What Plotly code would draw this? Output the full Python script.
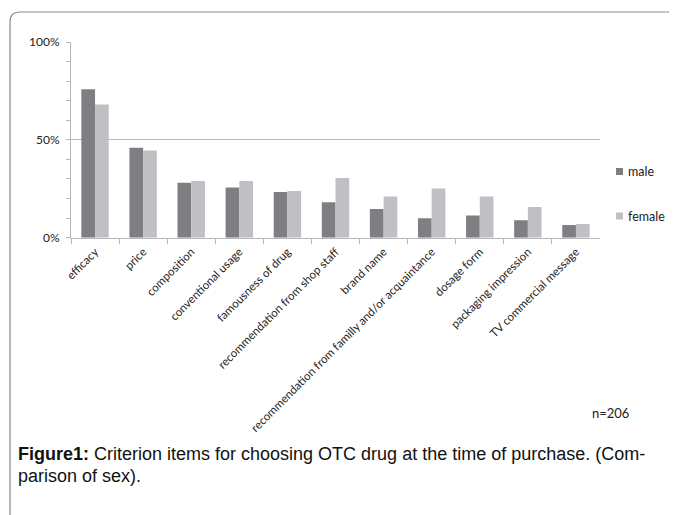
import plotly.graph_objects as go

categories = ["efficacy", "price", "composition", "conventional usage", "famousness of drug",
              "recommendation from shop staff", "brand name",
              "recommendation from familly and/or acquaintance", "dosage form",
              "packaging impression", "TV commercial message"]
male = [0.758, 0.46, 0.281, 0.257, 0.233, 0.181, 0.147, 0.099, 0.114, 0.089, 0.065]
female = [0.68, 0.445, 0.29, 0.29, 0.239, 0.305, 0.21, 0.252, 0.21, 0.157, 0.07]
ytick_vals = [0, 0.5, 1.0]
ytick_text = ["0%", "50%", "100%"]
series_names = ["male", "female"]
series_colors = ["#7f7f83", "#bfc0c4"]

# page body has an 8px margin; work in window pixels and convert
OFF = 8
W, H = 677 - OFF, 515 - OFF
def px(x): return (x - OFF) / W
def py(y): return 1 - (y - OFF) / H

fig = go.Figure()
for name, vals, col in zip(series_names, [male, female], series_colors):
    fig.add_trace(go.Bar(x=categories, y=vals, name=name, marker_color=col,
                         marker_line_width=0))

axis_col = "#b8b8b8"
fig.update_layout(
    width=W, height=H,
    margin=dict(l=0, r=0, t=0, b=0, autoexpand=False),
    paper_bgcolor="white", plot_bgcolor="white",
    barmode="group", bargap=0.43, bargroupgap=0,
    font=dict(family="Lato, Open Sans, sans-serif", color="#222"),
    xaxis=dict(domain=[px(71), px(600)], showline=True, linecolor=axis_col, linewidth=1,
               automargin=False, ticklabelstandoff=2,
               ticks="outside", tickson="boundaries", ticklen=5, tickcolor=axis_col,
               tickangle=-45, tickfont=dict(size=11.5, family="Lato"), showgrid=False),
    yaxis=dict(domain=[py(237.7), py(42)], range=[0, 1.0], tickvals=ytick_vals,
               automargin=False, ticklabelstandoff=4,
               ticktext=ytick_text, showline=True, linecolor=axis_col, linewidth=1,
               ticks="outside", ticklen=4, tickcolor=axis_col,
               tickfont=dict(size=12, family="Lato"),
               showgrid=True, gridcolor=axis_col, gridwidth=1, zeroline=False,
               minor=dict(tickvals=[0.1, 0.2, 0.3, 0.4, 0.6, 0.7, 0.8, 0.9], ticks="outside",
                          ticklen=4, tickcolor=axis_col, showgrid=False)),
    showlegend=False,
)

# manual legend
for i, (name, col) in enumerate(zip(series_names, series_colors)):
    yc = 171.5 + 44.5 * i
    fig.add_shape(type="rect", xref="paper", yref="paper",
                  x0=px(616), x1=px(623), y0=py(yc - 3.5), y1=py(yc + 3.5),
                  fillcolor=col, line_width=0)
    fig.add_annotation(x=px(626), y=py(yc), xref="paper", yref="paper", text=name,
                       showarrow=False, xanchor="left", yanchor="middle",
                       font=dict(size=12.5, family="Lato", color="#222"))

# outer frame with rounded top-left corner
r = 10
x0, y0 = 10, 12
path = (f"M {px(x0)},{py(H + 40)} L {px(x0)},{py(y0 + r)} "
        f"Q {px(x0)},{py(y0)} {px(x0 + r)},{py(y0)} L {px(W + 40)},{py(y0)}")
fig.add_shape(type="path", path=path, xref="paper", yref="paper",
              line=dict(color="#8a8a8a", width=1.2))

fig.add_annotation(x=px(610), y=py(413), xref="paper", yref="paper", text="n=206",
                   showarrow=False, font=dict(size=13, family="Lato", color="#222"),
                   xanchor="center", yanchor="middle")

cap_font = dict(size=18, family="Liberation Sans", color="#111")
fig.add_annotation(x=px(16), y=py(454), xref="paper", yref="paper",
                   text="<b>Figure1:</b> Criterion items for choosing OTC drug at the time of purchase. (Com-",
                   showarrow=False, font=cap_font, xanchor="left", yanchor="middle")
fig.add_annotation(x=px(16), y=py(476), xref="paper", yref="paper",
                   text="parison of sex).",
                   showarrow=False, font=cap_font, xanchor="left", yanchor="middle")

fig.write_html("out.html")
